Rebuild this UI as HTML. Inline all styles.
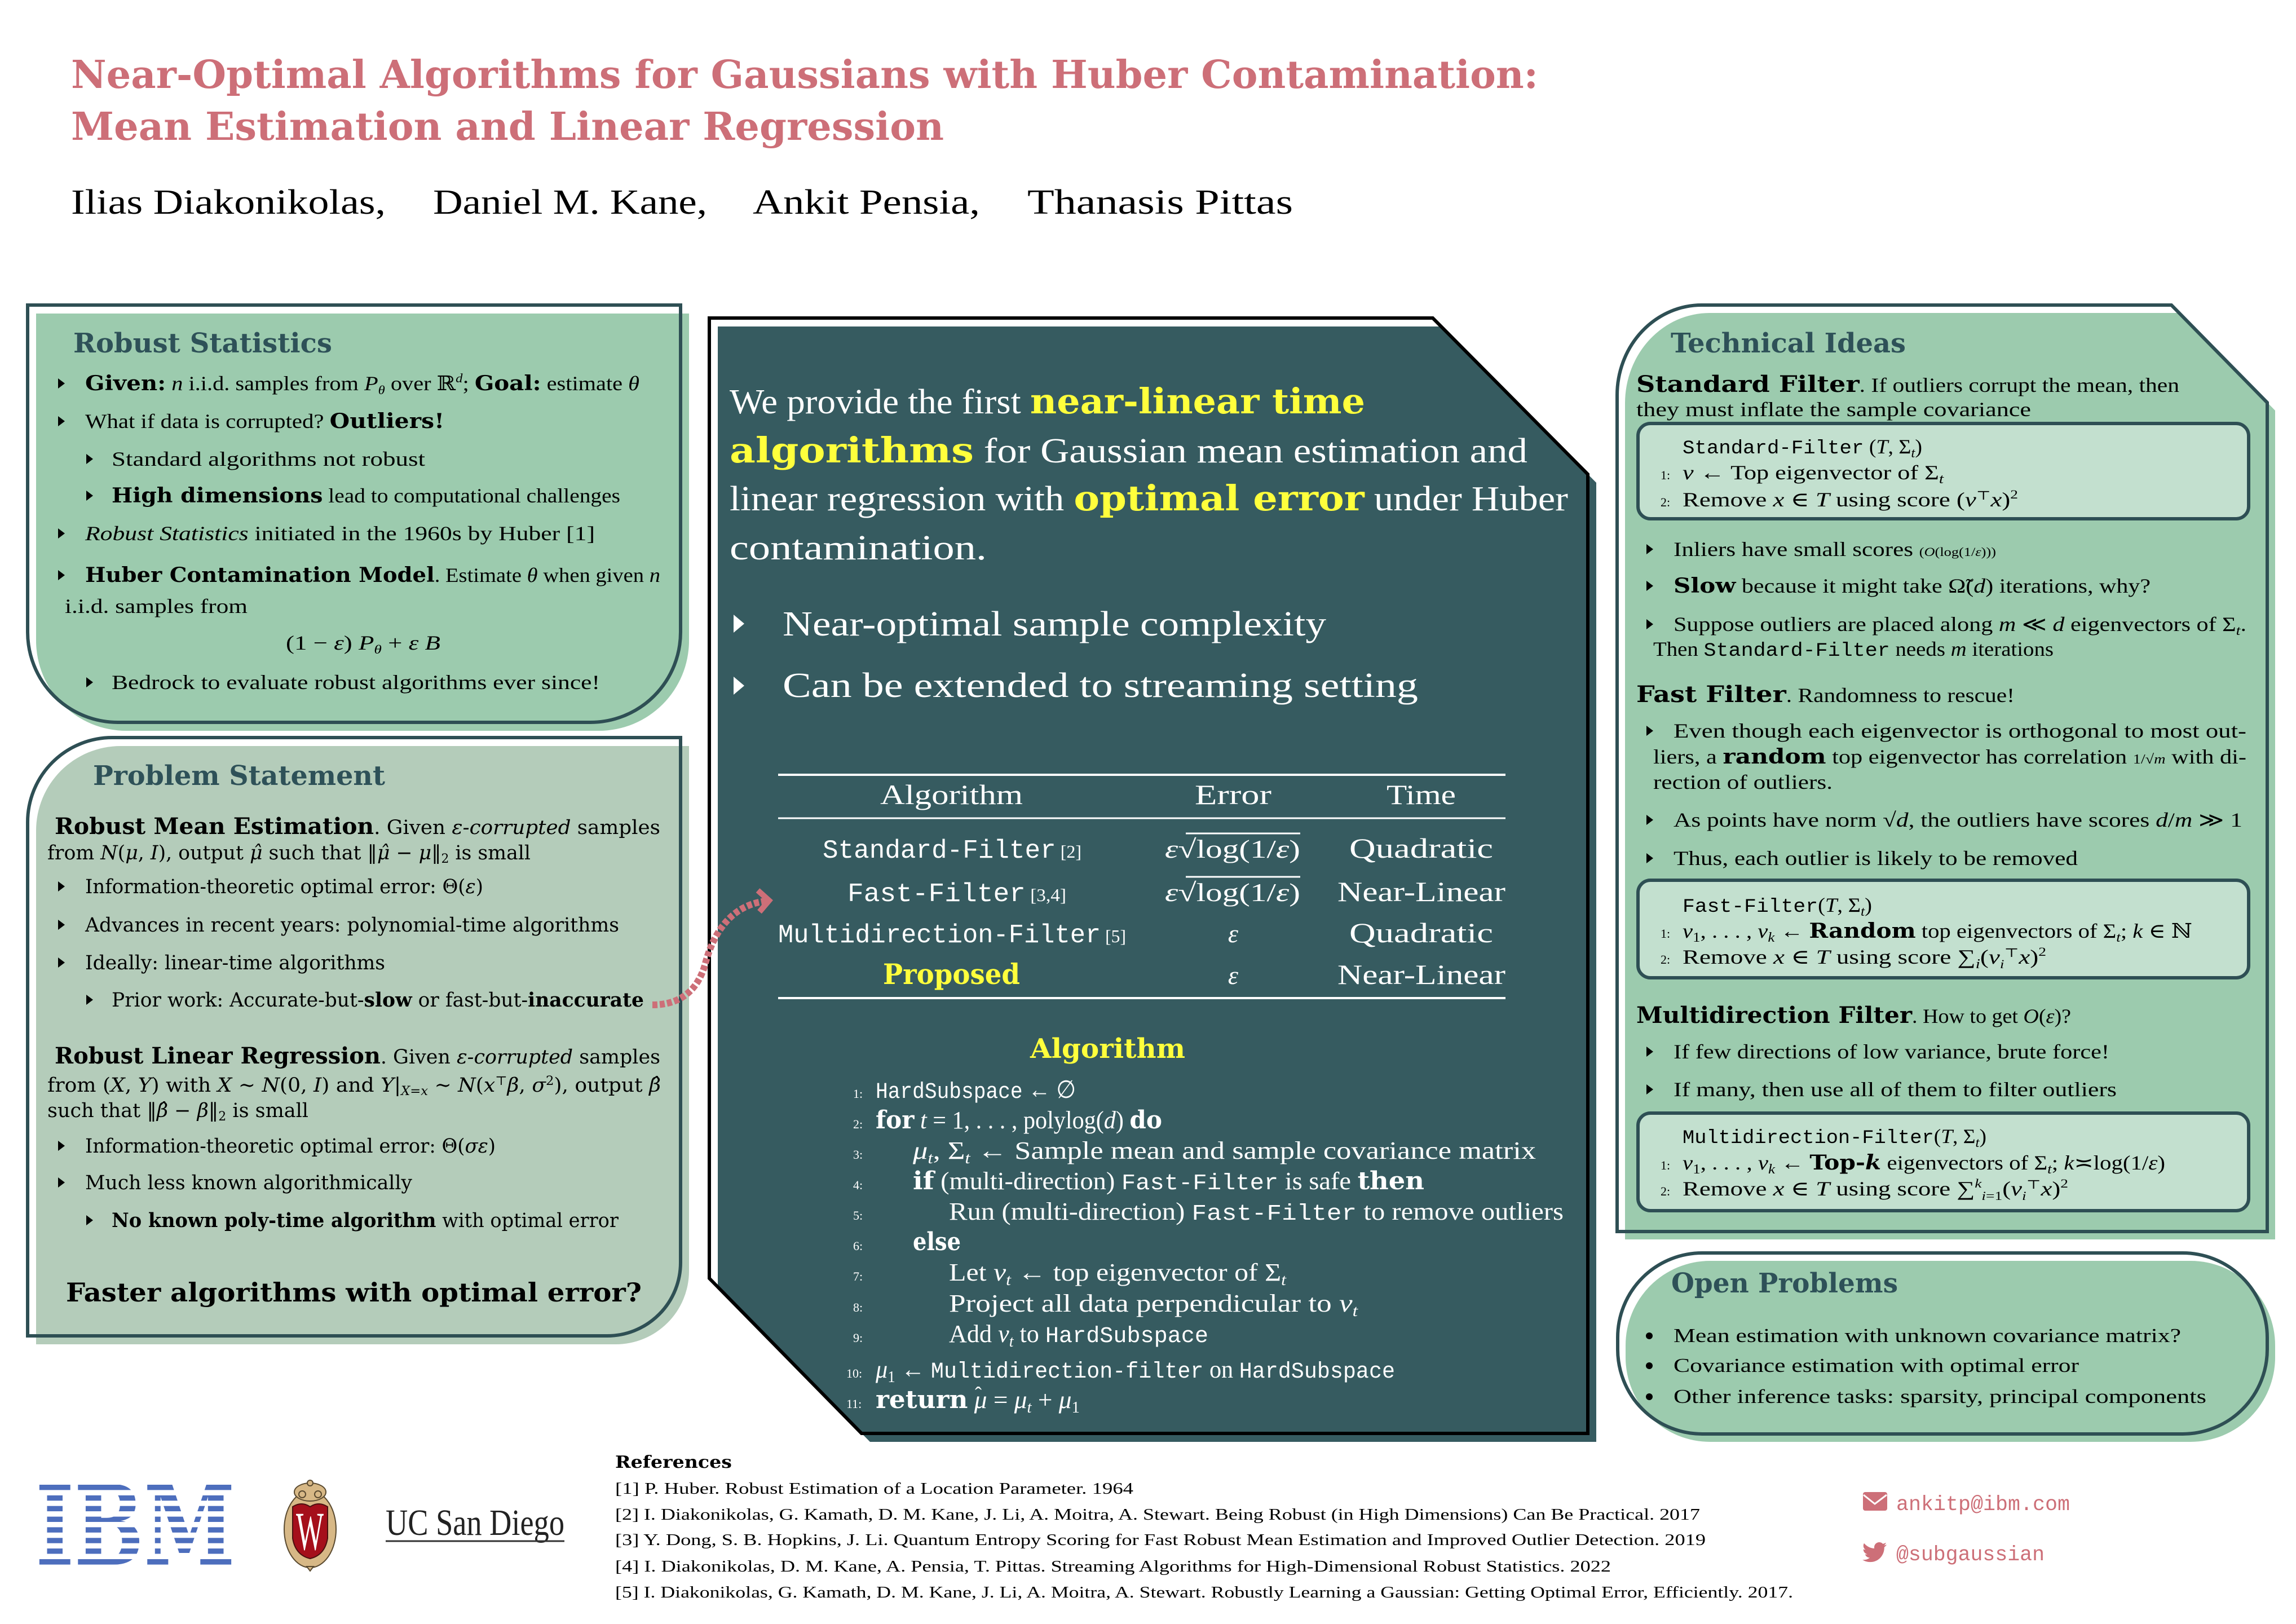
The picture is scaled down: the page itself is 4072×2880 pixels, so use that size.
<!DOCTYPE html>
<html><head><meta charset="utf-8">
<style>
html,body{margin:0;padding:0;background:#fff;}
svg{display:block}
.t{font-family:"Liberation Serif","DejaVu Serif",serif}
.d{font-family:"DejaVu Serif","Liberation Serif",serif}
.h{font-family:"DejaVu Serif","Liberation Serif",serif;font-weight:bold}
.b{font-family:"DejaVu Serif","Liberation Serif",serif;font-weight:bold}
.m{font-family:"Liberation Mono","DejaVu Sans Mono",monospace}
.i{font-style:italic}
.y{fill:#ffff3c}
</style></head><body>
<svg xmlns="http://www.w3.org/2000/svg" width="4072" height="2880" viewBox="0 0 4072 2880">
<rect x="0" y="0" width="4072" height="2880" fill="#ffffff"/>

<!-- Title -->
<text class="h" x="126" y="156" font-size="68" fill="#cd6f78" textLength="2602" lengthAdjust="spacingAndGlyphs">Near-Optimal Algorithms for Gaussians with Huber Contamination:</text>
<text class="h" x="126" y="248" font-size="68" fill="#cd6f78" textLength="1548" lengthAdjust="spacingAndGlyphs">Mean Estimation and Linear Regression</text>

<!-- Authors -->
<g class="t" font-size="62" fill="#000">
<text x="126" y="379" textLength="558" lengthAdjust="spacingAndGlyphs">Ilias Diakonikolas,</text>
<text x="768" y="379" textLength="486" lengthAdjust="spacingAndGlyphs">Daniel M. Kane,</text>
<text x="1335" y="379" textLength="403" lengthAdjust="spacingAndGlyphs">Ankit Pensia,</text>
<text x="1822" y="379" textLength="471" lengthAdjust="spacingAndGlyphs">Thanasis Pittas</text>
</g>

<!-- ========== Box 1: Robust Statistics ========== -->
<path d="M64,556 H1222 V1136 A160,160 0 0 1 1062,1296 H224 A160,160 0 0 1 64,1136 Z" fill="#9ccbae"/>
<path d="M49,541 H1207 V1121 A160,160 0 0 1 1047,1281 H209 A160,160 0 0 1 49,1121 Z" fill="none" stroke="#2e4f54" stroke-width="6"/>
<text class="h" x="130" y="625" font-size="48" fill="#2e5158" textLength="459" lengthAdjust="spacingAndGlyphs">Robust Statistics</text>

<g fill="#000">
<polygon points="103,671 115,680 103,689"/>
<polygon points="103,738 115,747 103,756"/>
<polygon points="153,805 165,814 153,823"/>
<polygon points="153,870 165,879 153,888"/>
<polygon points="103,937 115,946 103,955"/>
<polygon points="103,1011 115,1020 103,1029"/>
<polygon points="153,1201 165,1210 153,1219"/>
</g>
<g class="t" font-size="36" fill="#000">
<text x="151" y="692" textLength="983" lengthAdjust="spacingAndGlyphs"><tspan class="b">Given:</tspan> <tspan class="i">n</tspan> i.i.d. samples from <tspan class="i">P</tspan><tspan class="i" font-size="22" dy="7">θ</tspan><tspan dy="-7"> over ℝ</tspan><tspan class="i" font-size="22" dy="-14">d</tspan><tspan dy="14">; </tspan><tspan class="b">Goal:</tspan> estimate <tspan class="i">θ</tspan></text>
<text x="151" y="759" textLength="637" lengthAdjust="spacingAndGlyphs">What if data is corrupted? <tspan class="b">Outliers!</tspan></text>
<text x="198" y="826" textLength="556" lengthAdjust="spacingAndGlyphs">Standard algorithms not robust</text>
<text x="198" y="891" textLength="902" lengthAdjust="spacingAndGlyphs"><tspan class="b">High dimensions</tspan> lead to computational challenges</text>
<text x="151" y="958" textLength="904" lengthAdjust="spacingAndGlyphs"><tspan class="i">Robust Statistics</tspan> initiated in the 1960s by Huber [1]</text>
<text x="151" y="1032" textLength="1020" lengthAdjust="spacingAndGlyphs"><tspan class="b">Huber Contamination Model</tspan>.  Estimate <tspan class="i">θ</tspan> when given <tspan class="i">n</tspan></text>
<text x="115" y="1087" textLength="324" lengthAdjust="spacingAndGlyphs">i.i.d. samples from</text>
<text x="507" y="1152" textLength="274" lengthAdjust="spacingAndGlyphs">(1 − <tspan class="i">ε</tspan>) <tspan class="i">P</tspan><tspan class="i" font-size="22" dy="7">θ</tspan><tspan dy="-7"> + </tspan><tspan class="i">ε B</tspan></text>
<text x="198" y="1222" textLength="866" lengthAdjust="spacingAndGlyphs">Bedrock to evaluate robust algorithms ever since!</text>
</g>

<!-- ========== Box 2: Problem Statement ========== -->
<path d="M64,1473 A150,150 0 0 1 214,1323 H1222 V2254 A130,130 0 0 1 1092,2384 H64 Z" fill="#b4ccba"/>
<path d="M49,1458 A150,150 0 0 1 199,1308 H1207 V2239 A130,130 0 0 1 1077,2369 H49 Z" fill="none" stroke="#2e4f54" stroke-width="6"/>
<text class="h" x="165" y="1392" font-size="48" fill="#2e5158" textLength="518" lengthAdjust="spacingAndGlyphs">Problem Statement</text>

<g fill="#000">
<polygon points="103,1563 115,1572 103,1581"/>
<polygon points="103,1631 115,1640 103,1649"/>
<polygon points="103,1698 115,1707 103,1716"/>
<polygon points="153,1764 165,1773 153,1782"/>
<polygon points="103,2023 115,2032 103,2041"/>
<polygon points="103,2088 115,2097 103,2106"/>
<polygon points="153,2155 165,2164 153,2173"/>
</g>
<g class="d" font-size="35" fill="#000">
<text x="97" y="1479" textLength="1074" lengthAdjust="spacingAndGlyphs"><tspan class="b" font-size="40">Robust Mean Estimation</tspan>.  Given <tspan class="i">ε-corrupted</tspan> samples</text>
<text x="84" y="1524" textLength="857" lengthAdjust="spacingAndGlyphs">from <tspan class="i">N</tspan>(<tspan class="i">μ</tspan>, <tspan class="i">I</tspan>), output <tspan class="i">μ̂</tspan> such that ‖<tspan class="i">μ̂</tspan> − <tspan class="i">μ</tspan>‖<tspan font-size="22" dy="6">2</tspan><tspan dy="-6"> is small</tspan></text>
<text x="151" y="1584" textLength="706" lengthAdjust="spacingAndGlyphs">Information-theoretic optimal error: Θ(<tspan class="i">ε</tspan>)</text>
<text x="151" y="1652" textLength="947" lengthAdjust="spacingAndGlyphs">Advances in recent years: polynomial-time algorithms</text>
<text x="151" y="1719" textLength="532" lengthAdjust="spacingAndGlyphs">Ideally: linear-time algorithms</text>
<text x="198" y="1785" textLength="944" lengthAdjust="spacingAndGlyphs">Prior work: Accurate-but-<tspan class="b">slow</tspan> or fast-but-<tspan class="b">inaccurate</tspan></text>
<text x="97" y="1886" textLength="1074" lengthAdjust="spacingAndGlyphs"><tspan class="b" font-size="40">Robust Linear Regression</tspan>. Given <tspan class="i">ε-corrupted</tspan> samples</text>
<text x="84" y="1936" textLength="1088" lengthAdjust="spacingAndGlyphs">from (<tspan class="i">X</tspan>, <tspan class="i">Y</tspan>) with <tspan class="i">X</tspan> ∼ <tspan class="i">N</tspan>(0, <tspan class="i">I</tspan>) and <tspan class="i">Y</tspan>|<tspan class="i" font-size="22" dy="6">X=x</tspan><tspan dy="-6"> ∼ </tspan><tspan class="i">N</tspan>(<tspan class="i">x</tspan><tspan font-size="22" dy="-12">⊤</tspan><tspan class="i" dy="12">β</tspan>, <tspan class="i">σ</tspan><tspan font-size="22" dy="-12">2</tspan><tspan dy="12">), output </tspan><tspan class="i">β̂</tspan></text>
<text x="84" y="1981" textLength="463" lengthAdjust="spacingAndGlyphs">such that ‖<tspan class="i">β̂</tspan> − <tspan class="i">β</tspan>‖<tspan font-size="22" dy="6">2</tspan><tspan dy="-6"> is small</tspan></text>
<text x="151" y="2044" textLength="728" lengthAdjust="spacingAndGlyphs">Information-theoretic optimal error: Θ(<tspan class="i">σε</tspan>)</text>
<text x="151" y="2109" textLength="580" lengthAdjust="spacingAndGlyphs">Much less known algorithmically</text>
<text x="198" y="2176" textLength="899" lengthAdjust="spacingAndGlyphs"><tspan class="b">No known poly-time algorithm</tspan> with optimal error</text>
<text class="h" x="117" y="2308" font-size="46" textLength="1021" lengthAdjust="spacingAndGlyphs">Faster algorithms with optimal error?</text>
</g>

<!-- ========== Center box ========== -->
<polygon points="1273,579 2556,579 2831,856 2831,2557 1543,2557 1273,2282" fill="#365b60"/>
<polygon points="1258,564 2541,564 2816,841 2816,2542 1528,2542 1258,2267" fill="none" stroke="#000" stroke-width="6"/>

<!-- dashed arrow (drawn above center box) -->
<path d="M1157,1782 C1205,1782 1236,1758 1250,1712 C1262,1665 1290,1606 1358,1598" fill="none" stroke="#cd6f78" stroke-width="12" stroke-dasharray="9 4"/>
<polyline points="1344,1579 1364,1597 1347,1617" fill="none" stroke="#cd6f78" stroke-width="10" stroke-linejoin="miter"/>

<g class="t" font-size="62" fill="#fff">
<text x="1294" y="733" textLength="1127" lengthAdjust="spacingAndGlyphs">We provide the first <tspan class="h y">near-linear time</tspan></text>
<text x="1294" y="820" textLength="1415" lengthAdjust="spacingAndGlyphs"><tspan class="h y">algorithms</tspan> for Gaussian mean estimation and</text>
<text x="1294" y="905" textLength="1487" lengthAdjust="spacingAndGlyphs">linear regression with <tspan class="h y">optimal error</tspan> under Huber</text>
<text x="1294" y="992" textLength="456" lengthAdjust="spacingAndGlyphs">contamination.</text>
<text x="1388" y="1127" textLength="964" lengthAdjust="spacingAndGlyphs">Near-optimal sample complexity</text>
<text x="1388" y="1236" textLength="1127" lengthAdjust="spacingAndGlyphs">Can be extended to streaming setting</text>
</g>
<polygon points="1301,1090 1320,1106 1301,1122" fill="#fff"/>
<polygon points="1301,1200 1320,1216 1301,1232" fill="#fff"/>

<!-- table -->
<g stroke="#fff">
<line x1="1380" y1="1374" x2="2670" y2="1374" stroke-width="4"/>
<line x1="1380" y1="1451" x2="2670" y2="1451" stroke-width="3"/>
<line x1="1380" y1="1770" x2="2670" y2="1770" stroke-width="4"/>
<line x1="2103" y1="1478" x2="2306" y2="1478" stroke-width="3"/>
<line x1="2103" y1="1555" x2="2306" y2="1555" stroke-width="3"/>
</g>
<g class="t" font-size="50" fill="#fff">
<text x="1561" y="1426" textLength="253" lengthAdjust="spacingAndGlyphs">Algorithm</text>
<text x="2119" y="1426" textLength="136" lengthAdjust="spacingAndGlyphs">Error</text>
<text x="2459" y="1426" textLength="123" lengthAdjust="spacingAndGlyphs">Time</text>

<text x="1459" y="1521" textLength="459" lengthAdjust="spacingAndGlyphs"><tspan class="m" font-size="46">Standard-Filter</tspan><tspan font-size="32"> [2]</tspan></text>
<text x="1503" y="1598" textLength="388" lengthAdjust="spacingAndGlyphs"><tspan class="m" font-size="46">Fast-Filter</tspan><tspan font-size="32"> [3,4]</tspan></text>
<text x="1380" y="1671" textLength="617" lengthAdjust="spacingAndGlyphs"><tspan class="m" font-size="46">Multidirection-Filter</tspan><tspan font-size="32"> [5]</tspan></text>
<text class="h y" x="1566" y="1745" font-size="50" textLength="243" lengthAdjust="spacingAndGlyphs">Proposed</text>

<text x="2066" y="1521" font-size="46" textLength="240" lengthAdjust="spacingAndGlyphs"><tspan class="i">ε</tspan>√log(1/<tspan class="i">ε</tspan>)</text>
<text x="2066" y="1598" font-size="46" textLength="240" lengthAdjust="spacingAndGlyphs"><tspan class="i">ε</tspan>√log(1/<tspan class="i">ε</tspan>)</text>
<text class="i" x="2187" y="1671" font-size="46" text-anchor="middle">ε</text>
<text class="i" x="2187" y="1745" font-size="46" text-anchor="middle">ε</text>

<text x="2393" y="1521" textLength="255" lengthAdjust="spacingAndGlyphs">Quadratic</text>
<text x="2372" y="1598" textLength="298" lengthAdjust="spacingAndGlyphs">Near-Linear</text>
<text x="2393" y="1671" textLength="255" lengthAdjust="spacingAndGlyphs">Quadratic</text>
<text x="2372" y="1745" textLength="298" lengthAdjust="spacingAndGlyphs">Near-Linear</text>
</g>

<!-- Algorithm -->
<text class="h y" x="1827" y="1876" font-size="48" textLength="275" lengthAdjust="spacingAndGlyphs">Algorithm</text>
<g class="t" font-size="22" fill="#fff">
<text x="1513" y="1947">1:</text>
<text x="1513" y="2001">2:</text>
<text x="1513" y="2055">3:</text>
<text x="1513" y="2109">4:</text>
<text x="1513" y="2163">5:</text>
<text x="1513" y="2217">6:</text>
<text x="1513" y="2271">7:</text>
<text x="1513" y="2326">8:</text>
<text x="1513" y="2380">9:</text>
<text x="1501" y="2443">10:</text>
<text x="1501" y="2497">11:</text>
</g>
<g class="t" font-size="44" fill="#fff">
<text x="1553" y="1947" textLength="355" lengthAdjust="spacingAndGlyphs"><tspan class="m" font-size="40">HardSubspace</tspan> ← ∅</text>
<text x="1553" y="2001" textLength="508" lengthAdjust="spacingAndGlyphs"><tspan class="b">for</tspan> <tspan class="i">t</tspan> = 1, . . . , polylog(<tspan class="i">d</tspan>) <tspan class="b">do</tspan></text>
<text x="1619" y="2055" textLength="1105" lengthAdjust="spacingAndGlyphs"><tspan class="i">μ</tspan><tspan class="i" font-size="28" dy="8">t</tspan><tspan dy="-8">, Σ</tspan><tspan class="i" font-size="28" dy="8">t</tspan><tspan dy="-8"> ← Sample mean and sample covariance matrix</tspan></text>
<text x="1619" y="2109" textLength="907" lengthAdjust="spacingAndGlyphs"><tspan class="b">if</tspan> (multi-direction) <tspan class="m" font-size="40">Fast-Filter</tspan> is safe <tspan class="b">then</tspan></text>
<text x="1683" y="2163" textLength="1090" lengthAdjust="spacingAndGlyphs">Run (multi-direction) <tspan class="m" font-size="40">Fast-Filter</tspan> to remove outliers</text>
<text class="b" x="1619" y="2217" textLength="85" lengthAdjust="spacingAndGlyphs">else</text>
<text x="1683" y="2271" textLength="598" lengthAdjust="spacingAndGlyphs">Let <tspan class="i">v</tspan><tspan class="i" font-size="28" dy="8">t</tspan><tspan dy="-8"> ← top eigenvector of Σ</tspan><tspan class="i" font-size="28" dy="8">t</tspan></text>
<text x="1683" y="2326" textLength="725" lengthAdjust="spacingAndGlyphs">Project all data perpendicular to <tspan class="i">v</tspan><tspan class="i" font-size="28" dy="8">t</tspan></text>
<text x="1683" y="2380" textLength="460" lengthAdjust="spacingAndGlyphs">Add <tspan class="i">v</tspan><tspan class="i" font-size="28" dy="8">t</tspan><tspan dy="-8"> to </tspan><tspan class="m" font-size="40">HardSubspace</tspan></text>
<text x="1553" y="2443" textLength="921" lengthAdjust="spacingAndGlyphs"><tspan class="i">μ</tspan><tspan font-size="28" dy="8">1</tspan><tspan dy="-8"> ← </tspan><tspan class="m" font-size="40">Multidirection-filter</tspan> on <tspan class="m" font-size="40">HardSubspace</tspan></text>
<text x="1553" y="2497" textLength="362" lengthAdjust="spacingAndGlyphs"><tspan class="b">return</tspan> <tspan class="i">μ</tspan> = <tspan class="i">μ</tspan><tspan class="i" font-size="28" dy="8">t</tspan><tspan dy="-8"> + </tspan><tspan class="i">μ</tspan><tspan font-size="28" dy="8">1</tspan></text>
<text x="1729" y="2484" font-size="36">ˆ</text>
</g>

<!-- ========== Right box: Technical Ideas ========== -->
<path d="M2882,715 A150,160 0 0 1 3032,555 H3865 L4035,728 V2198 H2882 Z" fill="#9ccbae"/>
<path d="M2868,701 A150,160 0 0 1 3018,541 H3851 L4021,714 V2184 H2868 Z" fill="none" stroke="#2e4f54" stroke-width="6"/>
<text class="h" x="2963" y="625" font-size="48" fill="#2e5158" textLength="417" lengthAdjust="spacingAndGlyphs">Technical Ideas</text>

<rect x="2905" y="751" width="1083" height="169" rx="22" fill="#c3e0cf" stroke="#2e4f54" stroke-width="6"/>
<rect x="2905" y="1561" width="1083" height="173" rx="22" fill="#c3e0cf" stroke="#2e4f54" stroke-width="6"/>
<rect x="2905" y="1974" width="1083" height="173" rx="22" fill="#c3e0cf" stroke="#2e4f54" stroke-width="6"/>

<g fill="#000">
<polygon points="2920,965 2932,974 2920,983"/>
<polygon points="2920,1030 2932,1039 2920,1048"/>
<polygon points="2920,1098 2932,1107 2920,1116"/>
<polygon points="2920,1287 2932,1296 2920,1305"/>
<polygon points="2920,1445 2932,1454 2920,1463"/>
<polygon points="2920,1513 2932,1522 2920,1531"/>
<polygon points="2920,1856 2932,1865 2920,1874"/>
<polygon points="2920,1923 2932,1932 2920,1941"/>
</g>
<g class="t" font-size="22" fill="#000">
<text x="2945" y="850">1:</text>
<text x="2945" y="898">2:</text>
<text x="2945" y="1663">1:</text>
<text x="2945" y="1709">2:</text>
<text x="2945" y="2074">1:</text>
<text x="2945" y="2120">2:</text>
</g>
<g class="t" font-size="36" fill="#000">
<text x="2902" y="695" textLength="963" lengthAdjust="spacingAndGlyphs"><tspan class="b" font-size="40">Standard Filter</tspan>. If outliers corrupt the mean, then</text>
<text x="2902" y="738" textLength="700" lengthAdjust="spacingAndGlyphs">they must inflate the sample covariance</text>
<text x="2984" y="804" textLength="425" lengthAdjust="spacingAndGlyphs"><tspan class="m" font-size="34">Standard-Filter</tspan> (<tspan class="i">T</tspan>, Σ<tspan class="i" font-size="24" dy="7">t</tspan><tspan dy="-7">)</tspan></text>
<text x="2984" y="850" textLength="463" lengthAdjust="spacingAndGlyphs"><tspan class="i">v</tspan> ← Top eigenvector of Σ<tspan class="i" font-size="24" dy="7">t</tspan></text>
<text x="2984" y="898" textLength="595" lengthAdjust="spacingAndGlyphs">Remove <tspan class="i">x</tspan> ∈ <tspan class="i">T</tspan> using score (<tspan class="i">v</tspan><tspan font-size="22" dy="-12">⊤</tspan><tspan class="i" dy="12">x</tspan>)<tspan font-size="22" dy="-14">2</tspan></text>
<text x="2968" y="986" textLength="572" lengthAdjust="spacingAndGlyphs">Inliers have small scores <tspan font-size="22">(<tspan class="i">O</tspan>(log(1/<tspan class="i">ε</tspan>)))</tspan></text>
<text x="2968" y="1051" textLength="846" lengthAdjust="spacingAndGlyphs"><tspan class="b">Slow</tspan> because it might take Ω̃(<tspan class="i">d</tspan>) iterations, why?</text>
<text x="2968" y="1119" textLength="1016" lengthAdjust="spacingAndGlyphs">Suppose outliers are placed along <tspan class="i">m</tspan> ≪ <tspan class="i">d</tspan> eigenvectors of Σ<tspan class="i" font-size="24" dy="7">t</tspan><tspan dy="-7">.</tspan></text>
<text x="2932" y="1163" textLength="710" lengthAdjust="spacingAndGlyphs">Then <tspan class="m" font-size="34">Standard-Filter</tspan> needs <tspan class="i">m</tspan> iterations</text>
<text x="2902" y="1245" textLength="671" lengthAdjust="spacingAndGlyphs"><tspan class="b" font-size="40">Fast Filter</tspan>. Randomness to rescue!</text>
<text x="2968" y="1308" textLength="1016" lengthAdjust="spacingAndGlyphs">Even though each eigenvector is orthogonal to most out-</text>
<text x="2932" y="1354" textLength="1052" lengthAdjust="spacingAndGlyphs">liers, a <tspan class="b">random</tspan> top eigenvector has correlation <tspan font-size="24">1/√<tspan class="i">m</tspan></tspan> with di-</text>
<text x="2932" y="1399" textLength="318" lengthAdjust="spacingAndGlyphs">rection of outliers.</text>
<text x="2968" y="1466" textLength="1009" lengthAdjust="spacingAndGlyphs">As points have norm √<tspan class="i">d</tspan>, the outliers have scores <tspan class="i">d</tspan>/<tspan class="i">m</tspan> ≫ 1</text>
<text x="2968" y="1534" textLength="717" lengthAdjust="spacingAndGlyphs">Thus, each outlier is likely to be removed</text>
<text x="2984" y="1617" textLength="336" lengthAdjust="spacingAndGlyphs"><tspan class="m" font-size="34">Fast-Filter</tspan>(<tspan class="i">T</tspan>, Σ<tspan class="i" font-size="24" dy="7">t</tspan><tspan dy="-7">)</tspan></text>
<text x="2984" y="1663" textLength="904" lengthAdjust="spacingAndGlyphs"><tspan class="i">v</tspan><tspan font-size="24" dy="7">1</tspan><tspan dy="-7">, . . . , </tspan><tspan class="i">v</tspan><tspan class="i" font-size="24" dy="7">k</tspan><tspan dy="-7"> ← </tspan><tspan class="b">Random</tspan> top eigenvectors of Σ<tspan class="i" font-size="24" dy="7">t</tspan><tspan dy="-7">; </tspan><tspan class="i">k</tspan> ∈ ℕ</text>
<text x="2984" y="1709" textLength="645" lengthAdjust="spacingAndGlyphs">Remove <tspan class="i">x</tspan> ∈ <tspan class="i">T</tspan> using score ∑<tspan class="i" font-size="24" dy="8">i</tspan><tspan dy="-8">(</tspan><tspan class="i">v</tspan><tspan class="i" font-size="22" dy="8">i</tspan><tspan font-size="22" dy="-20">⊤</tspan><tspan class="i" dy="12">x</tspan>)<tspan font-size="22" dy="-14">2</tspan></text>
<text x="2902" y="1814" textLength="771" lengthAdjust="spacingAndGlyphs"><tspan class="b" font-size="40">Multidirection Filter</tspan>. How to get <tspan class="i">O</tspan>(<tspan class="i">ε</tspan>)?</text>
<text x="2968" y="1877" textLength="773" lengthAdjust="spacingAndGlyphs">If few directions of low variance, brute force!</text>
<text x="2968" y="1944" textLength="786" lengthAdjust="spacingAndGlyphs">If many, then use all of them to filter outliers</text>
<text x="2984" y="2027" textLength="539" lengthAdjust="spacingAndGlyphs"><tspan class="m" font-size="34">Multidirection-Filter</tspan>(<tspan class="i">T</tspan>, Σ<tspan class="i" font-size="24" dy="7">t</tspan><tspan dy="-7">)</tspan></text>
<text x="2984" y="2074" textLength="856" lengthAdjust="spacingAndGlyphs"><tspan class="i">v</tspan><tspan font-size="24" dy="7">1</tspan><tspan dy="-7">, . . . , </tspan><tspan class="i">v</tspan><tspan class="i" font-size="24" dy="7">k</tspan><tspan dy="-7"> ← </tspan><tspan class="b">Top-<tspan class="i">k</tspan></tspan> eigenvectors of Σ<tspan class="i" font-size="24" dy="7">t</tspan><tspan dy="-7">;  </tspan><tspan class="i">k</tspan>≍log(1/<tspan class="i">ε</tspan>)</text>
<text x="2984" y="2120" textLength="684" lengthAdjust="spacingAndGlyphs">Remove <tspan class="i">x</tspan> ∈ <tspan class="i">T</tspan> using score ∑<tspan class="i" font-size="22" dy="-14">k</tspan><tspan class="i" font-size="22" dy="22">i</tspan><tspan font-size="22">=1</tspan><tspan dy="-8">(</tspan><tspan class="i">v</tspan><tspan class="i" font-size="22" dy="8">i</tspan><tspan font-size="22" dy="-20">⊤</tspan><tspan class="i" dy="12">x</tspan>)<tspan font-size="22" dy="-14">2</tspan></text>
</g>

<!-- ========== Open Problems ========== -->
<rect x="2883" y="2236" width="1152" height="321" rx="150" ry="150" fill="#9ccbae"/>
<rect x="2869" y="2222" width="1152" height="321" rx="150" ry="150" fill="none" stroke="#2e4f54" stroke-width="6"/>
<text class="h" x="2964" y="2292" font-size="48" fill="#2e5158" textLength="402" lengthAdjust="spacingAndGlyphs">Open Problems</text>
<g fill="#000">
<circle cx="2925" cy="2369" r="6"/>
<circle cx="2925" cy="2422" r="6"/>
<circle cx="2925" cy="2477" r="6"/>
</g>
<g class="t" font-size="35" fill="#000">
<text x="2968" y="2380" textLength="900" lengthAdjust="spacingAndGlyphs">Mean estimation with unknown covariance matrix?</text>
<text x="2968" y="2433" textLength="719" lengthAdjust="spacingAndGlyphs">Covariance estimation with optimal error</text>
<text x="2968" y="2488" textLength="945" lengthAdjust="spacingAndGlyphs">Other inference tasks: sparsity, principal components</text>
</g>

<!-- ========== Logos ========== -->
<defs>
<mask id="ibmMask" maskUnits="userSpaceOnUse" x="40" y="2600" width="420" height="200">
<rect x="40" y="2600" width="420" height="200" fill="#000"/>
<rect x="40" y="2633" width="420" height="9.4" fill="#fff"/>
<rect x="40" y="2651.9" width="420" height="9.4" fill="#fff"/>
<rect x="40" y="2670.7" width="420" height="9.4" fill="#fff"/>
<rect x="40" y="2689.6" width="420" height="9.4" fill="#fff"/>
<rect x="40" y="2708.4" width="420" height="9.4" fill="#fff"/>
<rect x="40" y="2727.3" width="420" height="9.4" fill="#fff"/>
<rect x="40" y="2746.1" width="420" height="9.4" fill="#fff"/>
<rect x="40" y="2765" width="420" height="9.6" fill="#fff"/>
</mask>
</defs>
<text class="h" x="63" y="2775" font-size="196" fill="#4d6ebd" textLength="354" lengthAdjust="spacingAndGlyphs" mask="url(#ibmMask)">IBM</text>

<!-- UW crest -->
<g>
<ellipse cx="550" cy="2712" rx="46" ry="68" fill="#d7b886" stroke="#5a4a30" stroke-width="2"/>
<ellipse cx="550" cy="2646" rx="28" ry="16" fill="#d7b886" stroke="#5a4a30" stroke-width="2"/>
<circle cx="550" cy="2630" r="5" fill="#d7b886" stroke="#5a4a30" stroke-width="2"/>
<path d="M544,2778 L550,2786 L556,2778 Z" fill="#d7b886" stroke="#5a4a30" stroke-width="2"/>
<circle cx="536" cy="2650" r="6" fill="none" stroke="#5a4a30" stroke-width="2"/>
<circle cx="564" cy="2650" r="6" fill="none" stroke="#5a4a30" stroke-width="2"/>
<path d="M519,2672 Q535,2662 550,2672 Q565,2662 581,2672 L581,2728 Q576,2758 550,2764 Q524,2758 519,2728 Z" fill="#a50f1b" stroke="#4a1010" stroke-width="2"/>
<text class="t" x="525" y="2748" font-size="96" fill="#fff" textLength="49" lengthAdjust="spacingAndGlyphs">W</text>
</g>

<!-- UC San Diego -->
<text class="t" x="684" y="2722" font-size="66" fill="#222" textLength="317" lengthAdjust="spacingAndGlyphs">UC San Diego</text>
<line x1="684" y1="2733" x2="1001" y2="2733" stroke="#333" stroke-width="3"/>

<!-- References -->
<g class="t" font-size="28" fill="#000">
<text class="b" x="1091" y="2603" font-size="30" textLength="207" lengthAdjust="spacingAndGlyphs">References</text>
<text x="1091" y="2649" textLength="919" lengthAdjust="spacingAndGlyphs">[1] P. Huber. Robust Estimation of a Location Parameter. 1964</text>
<text x="1091" y="2695" textLength="1924" lengthAdjust="spacingAndGlyphs">[2] I. Diakonikolas, G. Kamath, D. M. Kane, J. Li, A. Moitra, A. Stewart. Being Robust (in High Dimensions) Can Be Practical. 2017</text>
<text x="1091" y="2740" textLength="1934" lengthAdjust="spacingAndGlyphs">[3] Y. Dong, S. B. Hopkins, J. Li. Quantum Entropy Scoring for Fast Robust Mean Estimation and Improved Outlier Detection. 2019</text>
<text x="1091" y="2787" textLength="1766" lengthAdjust="spacingAndGlyphs">[4] I. Diakonikolas, D. M. Kane, A. Pensia, T. Pittas. Streaming Algorithms for High-Dimensional Robust Statistics. 2022</text>
<text x="1091" y="2833" textLength="2089" lengthAdjust="spacingAndGlyphs">[5] I. Diakonikolas, G. Kamath, D. M. Kane, J. Li, A. Moitra, A. Stewart. Robustly Learning a Gaussian: Getting Optimal Error, Efficiently. 2017.</text>
</g>

<!-- Contact -->
<rect x="3304" y="2646" width="43" height="33" rx="4" fill="#cd6f78"/>
<polyline points="3305,2651 3325,2667 3346,2651" fill="none" stroke="#fff" stroke-width="3"/>
<g transform="translate(3303,2731) scale(1.8)">
<path d="M23.953 4.57a10 10 0 01-2.825.775 4.958 4.958 0 002.163-2.723c-.951.555-2.005.959-3.127 1.184a4.92 4.92 0 00-8.384 4.482C7.69 8.095 4.067 6.13 1.64 3.162a4.822 4.822 0 00-.666 2.475c0 1.71.87 3.213 2.188 4.096a4.904 4.904 0 01-2.228-.616v.06a4.923 4.923 0 003.946 4.827 4.996 4.996 0 01-2.212.085 4.936 4.936 0 004.604 3.417 9.867 9.867 0 01-6.102 2.105c-.39 0-.779-.023-1.17-.067a13.995 13.995 0 007.557 2.209c9.053 0 13.998-7.496 13.998-13.985 0-.21 0-.42-.015-.63A9.935 9.935 0 0024 4.59z" fill="#cd6f78"/>
</g>
<g class="m" font-size="37" fill="#cd6f78">
<text x="3363" y="2678" textLength="308" lengthAdjust="spacingAndGlyphs">ankitp@ibm.com</text>
<text x="3363" y="2767" textLength="263" lengthAdjust="spacingAndGlyphs">@subgaussian</text>
</g>
</svg>
</body></html>
